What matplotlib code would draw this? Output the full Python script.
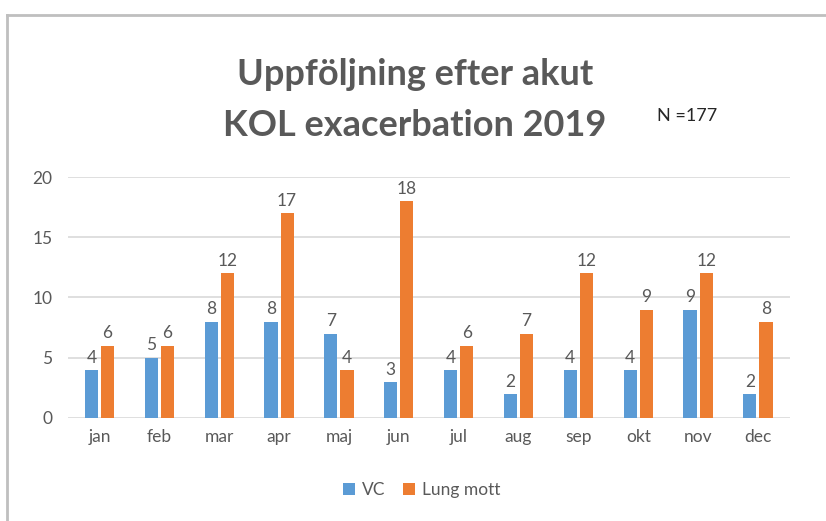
import matplotlib.pyplot as plt
import numpy as np

manader = ['jan', 'feb', 'mar', 'apr', 'maj', 'jun', 'jul', 'aug', 'sep', 'okt', 'nov', 'dec']
vc = [4, 5, 8, 8, 7, 3, 4, 2, 4, 4, 9, 2]
lung_mott = [6, 6, 12, 17, 4, 18, 6, 7, 12, 9, 12, 8]

plt.rcParams['font.family'] = ['Lato', 'DejaVu Sans']
gra = '#595959'
bla = '#5B9BD5'
orange = '#ED7D31'

fig = plt.figure(figsize=(8.26, 5.21), dpi=100)
ax = fig.add_axes([0.082, 0.198, 0.874, 0.462])

x = np.arange(len(manader))
bredd = 0.22
b1 = ax.bar(x - bredd/2 - 0.025, vc, bredd, color=bla, label='VC', zorder=3)
b2 = ax.bar(x + bredd/2 + 0.025, lung_mott, bredd, color=orange, label='Lung mott', zorder=3)
ax.bar_label(b1, padding=3, fontsize=12.5, color=gra)
ax.bar_label(b2, padding=3, fontsize=12.5, color=gra)

ax.set_xlim(-0.53, len(manader) - 0.47)
ax.set_ylim(0, 20)
ax.set_yticks([0, 5, 10, 15, 20])
ax.set_xticks(x)
ax.set_xticklabels(manader)
ax.tick_params(axis='both', length=0, labelsize=12.5, colors=gra)
ax.tick_params(axis='x', pad=8)
ax.tick_params(axis='y', pad=11)
ax.grid(axis='y', color='#D9D9D9', linewidth=1.2, zorder=0)
for s in ax.spines.values():
    s.set_visible(False)

fig.text(0.502, 0.857, 'Uppföljning efter akut', ha='center', va='center',
         fontsize=26, fontweight='bold', color=gra)
fig.text(0.502, 0.76, 'KOL exacerbation 2019', ha='center', va='center',
         fontsize=26, fontweight='bold', color=gra)
fig.text(0.795, 0.778, 'N =177', ha='left', va='center', fontsize=13, color='#262626')

fig.legend(handles=[b1, b2], loc='center', bbox_to_anchor=(0.51, 0.06), ncol=2,
           frameon=False, fontsize=12.5, labelcolor=gra, handlelength=0.7,
           handleheight=0.7, handletextpad=0.4, columnspacing=1.0)

# grå ram runt diagrammet
fig.add_artist(plt.Line2D([0.009, 1.0], [0.972, 0.972], color='#BFBFBF', linewidth=2))
fig.add_artist(plt.Line2D([0.009, 0.009], [0.0, 0.972], color='#BFBFBF', linewidth=2))

fig.savefig('out.png', dpi=100)
